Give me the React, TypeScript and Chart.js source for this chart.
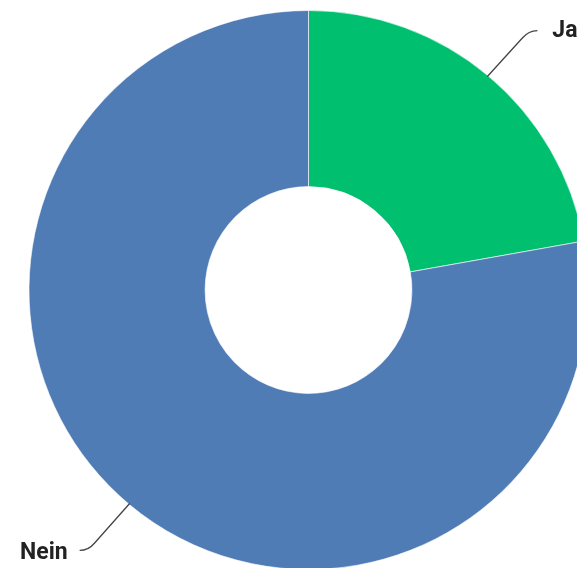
import React, { useEffect, useRef } from "react";
import { Chart, registerables } from "chart.js";

Chart.register(...registerables);

const categories: string[] = ["Ja", "Nein"];
const values: number[] = [22.2, 77.8];
const colors: string[] = ["#00BF6F", "#507CB5"];

const leaderPlugin = {
  id: "leaderLabels",
  afterDatasetsDraw(chart: any) {
    const ctx = chart.ctx as CanvasRenderingContext2D;
    const meta = chart.getDatasetMeta(0);
    ctx.save();
    meta.data.forEach((arc: any, i: number) => {
      const { x, y, outerRadius, startAngle, endAngle } = arc.getProps(
        ["x", "y", "outerRadius", "startAngle", "endAngle"],
        true
      );
      const mid = (startAngle + endAngle) / 2;
      const dx = Math.cos(mid);
      const dy = Math.sin(mid);
      const sx = x + dx * (outerRadius - 1);
      const sy = y + dy * (outerRadius - 1);
      const side = dx >= 0 ? 1 : -1;
      const vs = dy >= 0 ? 1 : -1;
      const ex = sx + side * 42;
      const ey = sy + vs * (vs > 0 ? 47 : 46);
      ctx.beginPath();
      ctx.strokeStyle = "#444";
      ctx.lineWidth = 1.3;
      ctx.moveTo(sx, sy);
      ctx.lineTo(ex - side * 7, ey - vs * 7.5);
      ctx.bezierCurveTo(ex - side * 2, ey - vs * 1.5, ex + side * 2, ey, ex + side * 8, ey);
      ctx.stroke();
      ctx.fillStyle = "#222";
      ctx.font = "bold 23px Roboto";
      ctx.textBaseline = "middle";
      ctx.textAlign = side > 0 ? "left" : "right";
      ctx.fillText(categories[i], ex + side * (side > 0 ? 23 : 20), ey + (vs > 0 ? 3 : 1));
    });
    ctx.restore();
  },
};

export default function App() {
  const ref = useRef<HTMLCanvasElement>(null);
  useEffect(() => {
    if (!ref.current) return;
    const chart = new Chart(ref.current, {
      type: "doughnut",
      data: {
        labels: categories,
        datasets: [
          {
            data: values,
            backgroundColor: colors,
            borderColor: "rgba(255,255,255,0.6)",
            borderWidth: 1,
            hoverOffset: 0,
          },
        ],
      },
      options: {
        responsive: false,
        animation: false,
        cutout: "37%",
        layout: { padding: 10 },
        plugins: {
          legend: { display: false },
          tooltip: { enabled: false },
        },
      },
      plugins: [leaderPlugin],
    });
    return () => chart.destroy();
  }, []);
  return (
    <div
      style={{
        position: "fixed",
        left: 0,
        top: 0,
        width: 577,
        height: 568,
        overflow: "hidden",
        background: "#fff",
      }}
    >
      <canvas ref={ref} width={617} height={580} style={{ display: "block" }} />
    </div>
  );
}
